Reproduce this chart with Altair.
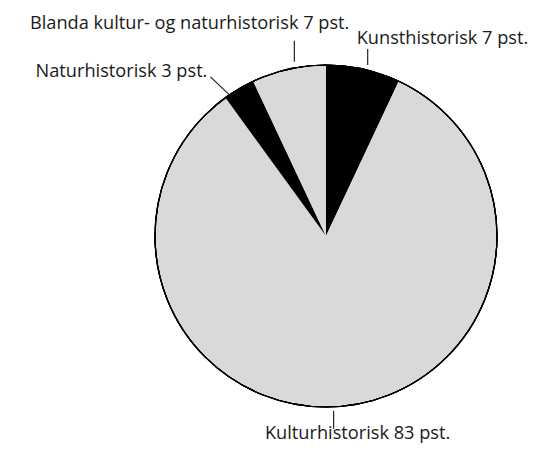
import math
import altair as alt
import pandas as pd

# Data (clockwise from 12 o'clock)
categories = ["Kunsthistorisk", "Kulturhistorisk", "Naturhistorisk",
              "Blanda kultur- og naturhistorisk"]
values = [7, 83, 3, 7]
fills = ["black", "light", "black", "light"]
labels = ["Kunsthistorisk 7 pst.", "Kulturhistorisk 83 pst.",
          "Naturhistorisk 3 pst.", "Blanda kultur- og naturhistorisk 7 pst."]

# Layout (chart pixel space)
CX, CY, R = 318, 228, 171
FONT = "Open Sans"
FS = 18.2
# per label: angle nudge (deg), gap from circle, leader vector, text offset from leader end, align
layout = {
    "Kunsthistorisk": dict(nudge=1.1, gap=5, lv=(0, -16), to=(-11, -5), align="left"),
    "Kulturhistorisk": dict(nudge=2.9, gap=4, lv=(0, 18), to=(24, 10), align="center"),
    "Naturhistorisk": dict(nudge=-3.8, gap=0, lv=(-19, -18), to=(-3, 0), align="right"),
    "Blanda kultur- og naturhistorisk": dict(nudge=2.3, gap=6, lv=(0, -21), to=(55, -12), align="right"),
}

df = pd.DataFrame({"cat": categories, "value": values, "fill": fills,
                   "label": labels, "idx": list(range(len(values)))})

total = sum(values)
rows = []
cum = 0
for c, v, lab in zip(categories, values, labels):
    mid = (cum + v / 2) / total * 360
    cum += v
    L = layout[c]
    a = math.radians(mid + L["nudge"])
    r = R + L["gap"]
    x1 = CX + r * math.sin(a)
    y1 = CY - r * math.cos(a)
    x2 = x1 + L["lv"][0]
    y2 = y1 + L["lv"][1]
    rows.append(dict(cat=c, label=lab, x1=x1, y1=y1, x2=x2, y2=y2,
                     tx=x2 + L["to"][0], ty=y2 + L["to"][1], align=L["align"]))
ann = pd.DataFrame(rows)

pie = alt.Chart(df).mark_arc(radius=R, strokeWidth=0).encode(
    theta=alt.Theta("value:Q", stack=True),
    order=alt.Order("idx:Q"),
    color=alt.Color("fill:N", scale=alt.Scale(domain=["black", "light"],
                                               range=["#000000", "#d9d9d9"]),
                    legend=None),
    x=alt.value(CX), y=alt.value(CY),
)

outline = alt.Chart(df).mark_arc(
    radius=R, theta=0, theta2=2 * math.pi, fillOpacity=0,
    stroke="#000000", strokeWidth=1.2
).encode(x=alt.value(CX), y=alt.value(CY))

leaders = alt.Chart(ann).mark_rule(color="#222222", strokeWidth=1.2).encode(
    x=alt.X("x1:Q", scale=None), y=alt.Y("y1:Q", scale=None),
    x2="x2:Q", y2="y2:Q",
)

texts = []
for al in ["left", "center", "right"]:
    texts.append(
        alt.Chart(ann).transform_filter(alt.datum.align == al).mark_text(
            align=al, baseline="alphabetic", font=FONT, fontSize=FS,
            color="#1a1a1a"
        ).encode(x=alt.X("tx:Q", scale=None), y=alt.Y("ty:Q", scale=None),
                 text="label:N")
    )

chart = alt.layer(pie, outline, leaders, *texts).properties(
    width=525, height=436, padding=0,
    autosize=alt.AutoSizeParams(type="none")
).configure_view(stroke=None)

chart.save("out.html", embed_options={"renderer": "svg", "actions": False})
